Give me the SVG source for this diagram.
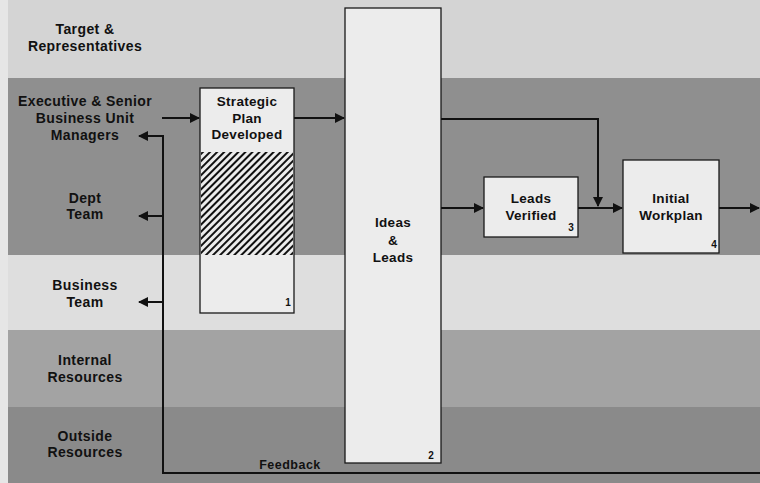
<svg xmlns="http://www.w3.org/2000/svg" width="760" height="483" viewBox="0 0 760 483">
<style>
.lbl{font-family:"Liberation Sans",Arial,sans-serif;font-weight:bold;font-size:13.5px;fill:#111;text-anchor:middle;letter-spacing:0.3px}
.lane{font-size:14px;letter-spacing:0.4px}
.box{fill:#ececec;stroke:#1a1a1a;stroke-width:1.3}
.num{font-family:"Liberation Sans",Arial,sans-serif;font-weight:bold;font-size:10px;fill:#111;text-anchor:middle}
.conn{fill:none;stroke:#111;stroke-width:2}
.fb{font-family:"Liberation Sans",Arial,sans-serif;font-weight:bold;font-size:12.5px;fill:#111;text-anchor:middle;letter-spacing:0.5px}
</style>
<defs>
<marker id="arr" viewBox="0 0 10 10" refX="9" refY="5" markerWidth="10" markerHeight="10" markerUnits="userSpaceOnUse" orient="auto">
<path d="M0,0 L10,5 L0,10 z" fill="#111"/>
</marker>
<pattern id="hatch" width="5" height="10" patternUnits="userSpaceOnUse" patternTransform="rotate(45)">
<rect width="5" height="10" fill="#ececec"/>
<rect width="2" height="10" fill="#111"/>
</pattern>
</defs>
<g id="lanes">
<rect x="0" y="0" width="760" height="483" fill="#e6e6e6"/>
<rect x="8" y="0" width="752" height="78" fill="#d4d4d4"/>
<rect x="8" y="78" width="752" height="177" fill="#8f8f8f"/>
<rect x="8" y="255" width="752" height="75" fill="#dedede"/>
<rect x="8" y="330" width="752" height="77" fill="#a3a3a3"/>
<rect x="8" y="407" width="752" height="76" fill="#8a8a8a"/>
<text class="lbl lane" x="85" y="34">Target &amp;</text>
<text class="lbl lane" x="85" y="51">Representatives</text>
<text class="lbl lane" x="85" y="106">Executive &amp; Senior</text>
<text class="lbl lane" x="85" y="123">Business Unit</text>
<text class="lbl lane" x="85" y="140">Managers</text>
<text class="lbl lane" x="85" y="203">Dept</text>
<text class="lbl lane" x="85" y="219">Team</text>
<text class="lbl lane" x="85" y="290">Business</text>
<text class="lbl lane" x="85" y="307">Team</text>
<text class="lbl lane" x="85" y="365">Internal</text>
<text class="lbl lane" x="85" y="382">Resources</text>
<text class="lbl lane" x="85" y="441">Outside</text>
<text class="lbl lane" x="85" y="457">Resources</text>
</g>
<g id="connectors">
<path class="conn" d="M162,118 H199" marker-end="url(#arr)"/>
<path class="conn" d="M294,118 H344" marker-end="url(#arr)"/>
<path class="conn" d="M441,119 H598 V206" marker-end="url(#arr)"/>
<path class="conn" d="M441,208 H483" marker-end="url(#arr)"/>
<path class="conn" d="M578,208 H622" marker-end="url(#arr)"/>
<path class="conn" d="M719,208 H759" marker-end="url(#arr)"/>
<path class="conn" d="M760,473 H163 V136 H139" marker-end="url(#arr)"/>
<path class="conn" d="M163,216 H139" marker-end="url(#arr)"/>
<path class="conn" d="M163,302 H139" marker-end="url(#arr)"/>
<text class="fb" x="290" y="469">Feedback</text>
</g>
<g id="n1">
<rect class="box" x="200" y="88" width="94" height="225"/>
<rect x="201" y="152" width="92" height="103" fill="url(#hatch)"/>
<text class="lbl" x="247" y="106">Strategic</text>
<text class="lbl" x="247" y="123">Plan</text>
<text class="lbl" x="247" y="139">Developed</text>
<text class="num" x="288" y="306">1</text>
</g>
<g id="n2">
<rect class="box" x="345" y="8" width="96" height="455"/>
<text class="lbl" x="393" y="227">Ideas</text>
<text class="lbl" x="393" y="245">&amp;</text>
<text class="lbl" x="393" y="262">Leads</text>
<text class="num" x="431" y="459">2</text>
</g>
<g id="n3">
<rect class="box" x="484" y="177" width="94" height="60"/>
<text class="lbl" x="531" y="203">Leads</text>
<text class="lbl" x="531" y="220">Verified</text>
<text class="num" x="571" y="231">3</text>
</g>
<g id="n4">
<rect class="box" x="623" y="160" width="96" height="93"/>
<text class="lbl" x="671" y="203">Initial</text>
<text class="lbl" x="671" y="220">Workplan</text>
<text class="num" x="714" y="248">4</text>
</g>
</svg>
